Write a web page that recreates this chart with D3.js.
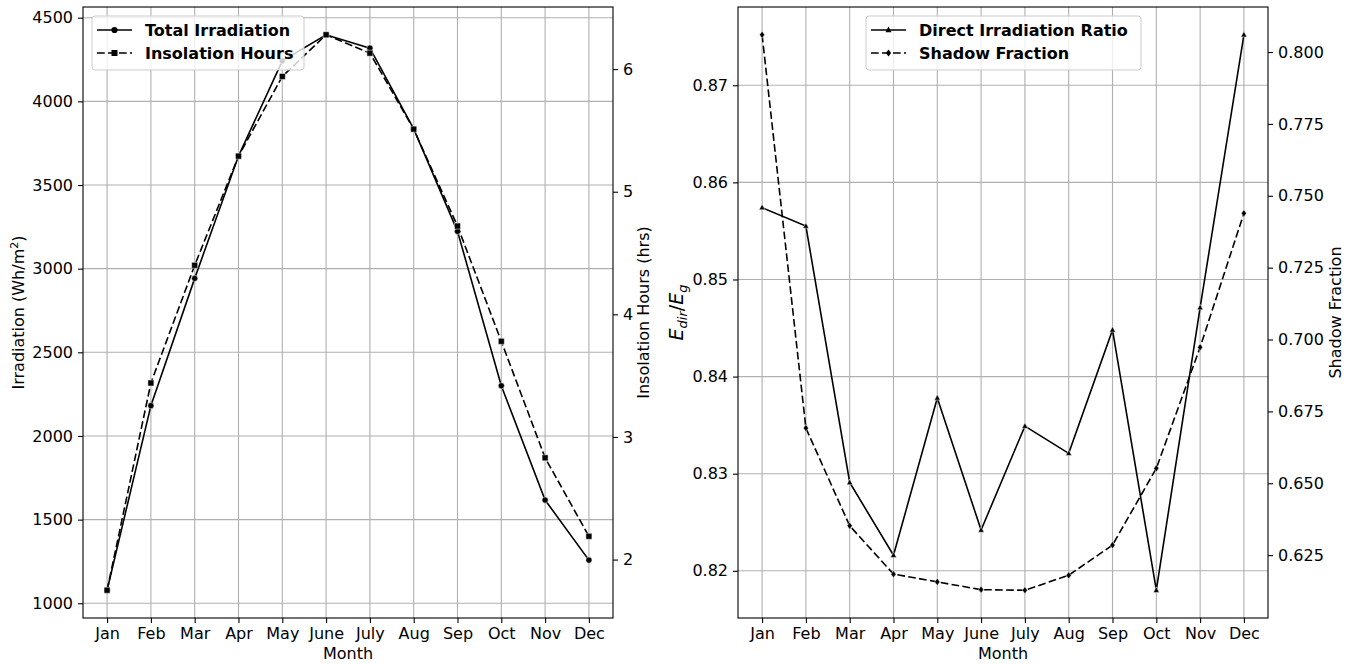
<!DOCTYPE html>
<html>
<head>
<meta charset="utf-8">
<script src="https://cdn.jsdelivr.net/npm/d3@7"></script>
<style>
  body { margin: 0; background: white; }
  text { font-family: "DejaVu Sans", sans-serif; fill: #000; }
</style>
</head>
<body>
<svg id="chart" width="1355" height="664"></svg>
<script>
// Data
const months = ['Jan','Feb','Mar','Apr','May','June','July','Aug','Sep','Oct','Nov','Dec']
const totalIrradiation = [1078, 2181, 2942, 3673, 4242, 4398, 4318, 3835, 3223, 2300, 1617, 1258]
const insolationHours = [1.75, 3.44, 4.40, 5.29, 5.94, 6.28, 6.13, 5.51, 4.72, 3.78, 2.83, 2.19]
const directRatio = [0.8574, 0.8555, 0.8291, 0.8216, 0.8378, 0.8242, 0.8349, 0.8321, 0.8448, 0.8180, 0.8471, 0.8752]
const shadowFraction = [0.8060, 0.6692, 0.6352, 0.6184, 0.6157, 0.6130, 0.6128, 0.6180, 0.6285, 0.6552, 0.6973, 0.7439]

// Tick labels
const irrTicks = [1000, 1500, 2000, 2500, 3000, 3500, 4000, 4500]
const hourTicks = [2, 3, 4, 5, 6]
const ratioTicks = [0.82, 0.83, 0.84, 0.85, 0.86, 0.87]
const shadowTicks = [0.625, 0.650, 0.675, 0.700, 0.725, 0.750, 0.775, 0.800]

const svg = d3.select('#chart')
const top_y = 7, bottom_y = 618
const fs = 16

// matplotlib style 5% margins
function padded(vals) {
  let lo = d3.min(vals), hi = d3.max(vals), m = (hi - lo) * 0.05
  return [lo - m, hi + m]
}

function markerPath(kind) {
  if (kind == 'circle') return d3.symbol().type(d3.symbolCircle).size(30)()
  if (kind == 'square') return 'M-3,-3H3V3H-3Z'
  if (kind == 'triangle') return 'M0,-3.4L3,2.2H-3Z'
  if (kind == 'diamond') return 'M0,-3.6L2.6,0L0,3.6L-2.6,0Z'
}

function panel(opt) {
  let g = svg.append('g')
  let x = d3.scaleLinear().domain([-0.55, 11.55]).range([opt.x0, opt.x1])
  let yL = d3.scaleLinear().domain(padded(opt.left.data)).range([bottom_y, top_y])
  let yR = d3.scaleLinear().domain(padded(opt.right.data)).range([bottom_y, top_y])

  // Grid
  g.append('g').selectAll('line').data(months).enter().append('line')
  .attr('x1', (d,i)=>x(i)).attr('x2', (d,i)=>x(i))
  .attr('y1', top_y).attr('y2', bottom_y)
  .attr('stroke', '#b0b0b0').attr('stroke-width', 1.1)
  g.append('g').selectAll('line').data(opt.left.ticks).enter().append('line')
  .attr('x1', opt.x0).attr('x2', opt.x1)
  .attr('y1', d=>yL(d)).attr('y2', d=>yL(d))
  .attr('stroke', '#b0b0b0').attr('stroke-width', 1.1)

  // Axes
  let ax = g.append('g').attr('transform', `translate(0,${bottom_y})`)
  .call(d3.axisBottom(x).tickValues(d3.range(12)).tickFormat(i=>months[i]).tickSize(5).tickPadding(5))
  let axL = g.append('g').attr('transform', `translate(${opt.x0},0)`)
  .call(d3.axisLeft(yL).tickValues(opt.left.ticks).tickFormat(opt.left.fmt).tickSize(5).tickPadding(5))
  let axR = g.append('g').attr('transform', `translate(${opt.x1},0)`)
  .call(d3.axisRight(yR).tickValues(opt.right.ticks).tickFormat(opt.right.fmt).tickSize(5).tickPadding(5))
  ;[ax, axL, axR].forEach(a => {
    a.select('.domain').remove()
    a.selectAll('.tick line').attr('stroke', '#000').attr('stroke-width', 1.1)
    a.selectAll('.tick text').attr('font-size', fs).attr('font-family', 'DejaVu Sans').attr('fill', '#000')
  })

  // Frame
  g.append('rect')
  .attr('x', opt.x0).attr('y', top_y)
  .attr('width', opt.x1 - opt.x0).attr('height', bottom_y - top_y)
  .attr('fill', 'none').attr('stroke', '#000').attr('stroke-width', 1.1)

  // Series
  let series = [
    {vals: opt.left.data, y: yL, dash: null, marker: opt.left.marker},
    {vals: opt.right.data, y: yR, dash: '7.7,3.3', marker: opt.right.marker}
  ]
  series.forEach(s => {
    let line = d3.line().x((d,i)=>x(i)).y(d=>s.y(d))
    g.append('path').datum(s.vals)
    .attr('d', line)
    .attr('fill', 'none').attr('stroke', '#000').attr('stroke-width', 1.6)
    .attr('stroke-dasharray', s.dash)
    g.append('g').selectAll('path').data(s.vals).enter().append('path')
    .attr('d', markerPath(s.marker))
    .attr('transform', (d,i)=>`translate(${x(i)},${s.y(d)})`)
    .attr('fill', '#000').attr('stroke', '#fff').attr('stroke-width', 0.5)
  })

  // Axis labels
  let cx = (opt.x0 + opt.x1) / 2, cy = (top_y + bottom_y) / 2
  g.append('text').attr('x', cx).attr('y', 659).attr('text-anchor', 'middle')
  .attr('font-size', fs).text('Month')
  opt.labels(g, cy)

  // Legend
  let lg = g.append('g')
  lg.append('rect')
  .attr('x', opt.legend.x).attr('y', 16).attr('width', opt.legend.w).attr('height', 54)
  .attr('rx', 3).attr('fill', 'white').attr('fill-opacity', 0.8)
  .attr('stroke', '#cccccc').attr('stroke-width', 1)
  ;[[opt.left, null], [opt.right, '7.7,3.3']].forEach((it, k) => {
    let ly = 30 + k * 23, lx = opt.legend.x + 5
    lg.append('line').attr('x1', lx).attr('x2', lx + 35).attr('y1', ly).attr('y2', ly)
    .attr('stroke', '#000').attr('stroke-width', 1.6).attr('stroke-dasharray', it[1])
    lg.append('path').attr('d', markerPath(it[0].marker))
    .attr('transform', `translate(${lx + 17.5},${ly})`).attr('fill', '#000')
    lg.append('text').attr('x', lx + 48).attr('y', ly).attr('dy', '0.35em')
    .attr('font-size', fs).attr('font-weight', 'bold').text(it[0].name)
  })
}

panel({
  x0: 83, x1: 613,
  left: {data: totalIrradiation, ticks: irrTicks, fmt: d3.format('d'), marker: 'circle', name: 'Total Irradiation'},
  right: {data: insolationHours, ticks: hourTicks, fmt: d3.format('d'), marker: 'square', name: 'Insolation Hours'},
  legend: {x: 92, w: 212},
  labels: (g, cy) => {
    let t = g.append('text').attr('transform', `translate(24,${cy}) rotate(-90)`)
    .attr('text-anchor', 'middle').attr('font-size', fs)
    t.append('tspan').text('Irradiation (Wh/m')
    t.append('tspan').attr('font-size', 11).attr('dy', -6).text('2')
    t.append('tspan').attr('dy', 6).text(')')
    g.append('text').attr('transform', `translate(649,${cy}) rotate(-90)`)
    .attr('text-anchor', 'middle').attr('font-size', fs).text('Insolation Hours (hrs)')
  }
})

panel({
  x0: 738, x1: 1268,
  left: {data: directRatio, ticks: ratioTicks, fmt: d3.format('.2f'), marker: 'triangle', name: 'Direct Irradiation Ratio'},
  right: {data: shadowFraction, ticks: shadowTicks, fmt: d3.format('.3f'), marker: 'diamond', name: 'Shadow Fraction'},
  legend: {x: 866, w: 275},
  labels: (g, cy) => {
    let t = g.append('text').attr('transform', `translate(683,${cy}) rotate(-90)`)
    .attr('text-anchor', 'middle').attr('font-size', 19).attr('font-style', 'italic')
    t.append('tspan').text('E')
    t.append('tspan').attr('font-size', 13).attr('dy', 4).text('dir')
    t.append('tspan').attr('dy', -4).attr('font-style', 'normal').text('/')
    t.append('tspan').text('E')
    t.append('tspan').attr('font-size', 13).attr('dy', 4).text('g')
    g.append('text').attr('transform', `translate(1341,${cy}) rotate(-90)`)
    .attr('text-anchor', 'middle').attr('font-size', fs).text('Shadow Fraction')
  }
})
</script>
</body>
</html>
